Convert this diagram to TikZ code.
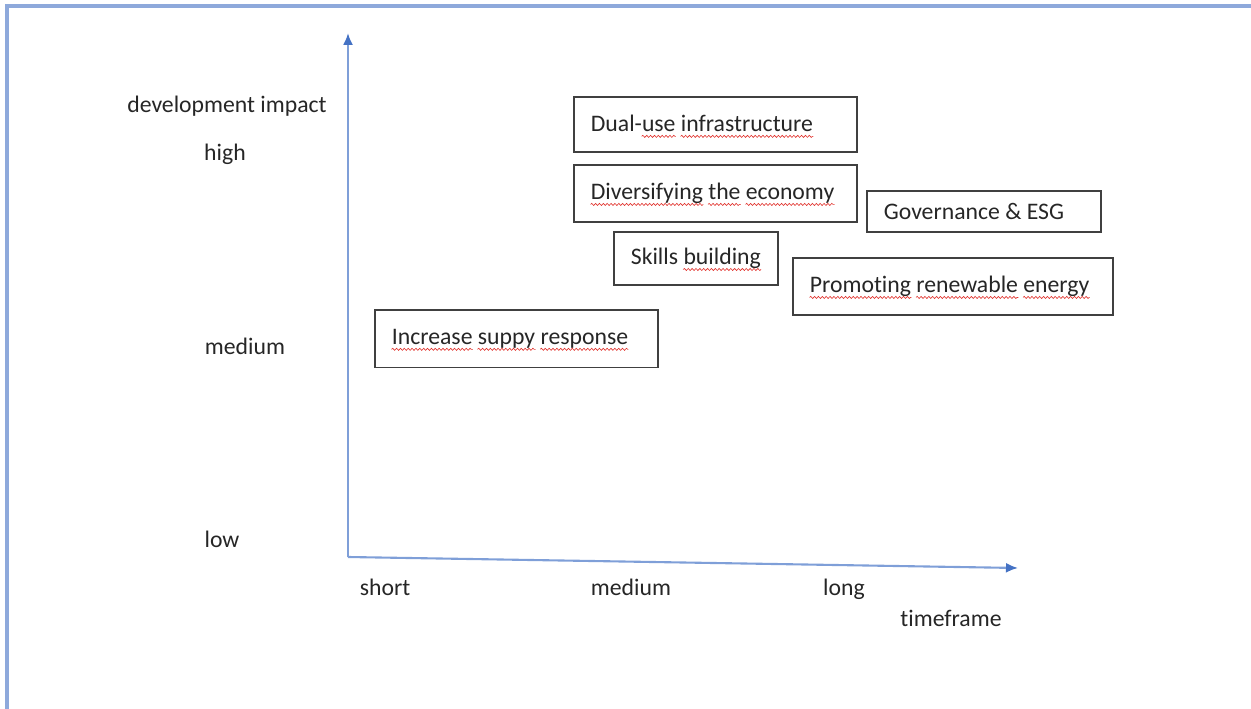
\documentclass[tikz,border=0pt]{standalone}
\usepackage{fontspec}
\setmainfont{Carlito}[Ligatures=NoCommon]
\usepackage{tikz}
\usetikzlibrary{arrows.meta,decorations.pathmorphing}
\definecolor{rahmen}{HTML}{8EA9DB}
\definecolor{achse}{HTML}{7F9FD8}
\definecolor{spitze}{HTML}{4472C4}
\definecolor{text}{HTML}{262626}
\definecolor{kante}{HTML}{404040}
\definecolor{rot}{HTML}{E0302A}
\newlength\pix
\setlength\pix{0.02cm}
\newcommand\spell[1]{\tikz[baseline=(w.base)]{\node[inner sep=0pt,anchor=base] (w) {#1};
  \draw[overlay,rot,line width=0.35pt,decorate,decoration={snake,amplitude=0.6pt,segment length=2.2pt}]
  ([yshift=-2.8pt]w.base west) -- ([yshift=-2.8pt]w.base east);}}
\newcommand\links[2]{\makebox[#1\pix][l]{#2}}
\tikzset{
  every node/.style={font=\fontsize{13.5}{16}\selectfont,text=text},
  ax/.style={-{Latex[length=0.24cm,width=0.2cm,color=spitze]},achse,line width=1.2pt},
  rand/.style={rahmen,line width=1.8pt},
  lab/.style={anchor=base,inner sep=0pt},
  kasten/.style={draw=kante,line width=1pt,anchor=north west,
    inner xsep=17\pix,inner ysep=0pt},
}
\begin{document}
\begin{tikzpicture}[x=0.02cm,y=-0.02cm]
  \useasboundingbox (0,0) rectangle (1251,709);
  \draw[rand] (7,709) -- (7,6) -- (1251,6);
  \coordinate (o) at (348,557);
  \coordinate (ytop) at (348,33);
  \coordinate (xend) at (1018,568);
  \draw[ax] (o) -- (ytop);
  \draw[ax] (o) -- (xend);
  \node[lab] (yname) at (227,113) {development impact};
  \node[lab] (yhigh) at (225,161) {high};
  \node[lab] (ymed) at (245,355) {medium};
  \node[lab] (ylow) at (222,547) {low};
  \node[lab] (xshort) at (385,595) {short};
  \node[lab] (xmed) at (631,595) {medium};
  \node[lab] (xlong) at (844,595) {long};
  \node[lab] (xname) at (951,626) {timeframe};
  \node[kasten,minimum height=53\pix] (dual) at (573,96)
    {\links{249}{Dual-\spell{use} \spell{infrastructure}}};
  \node[kasten,minimum height=53\pix] (divers) at (573,164)
    {\links{249}{\spell{Diversifying} \spell{the} \spell{economy}}};
  \node[kasten,minimum height=41\pix] (gov) at (866,190)
    {\links{200}{Governance \& ESG}};
  \node[kasten,minimum height=53\pix] (skills) at (613,231)
    {\links{130}{Skills \spell{building}}};
  \node[kasten,minimum height=53\pix] (renew) at (792,257)
    {\links{286}{\spell{Promoting} \spell{renewable} \spell{energy}}};
  \node[kasten,minimum height=54\pix] (supply) at (374,309)
    {\links{249}{\spell{Increase} \spell{suppy} \spell{response}}};
\end{tikzpicture}
\end{document}
